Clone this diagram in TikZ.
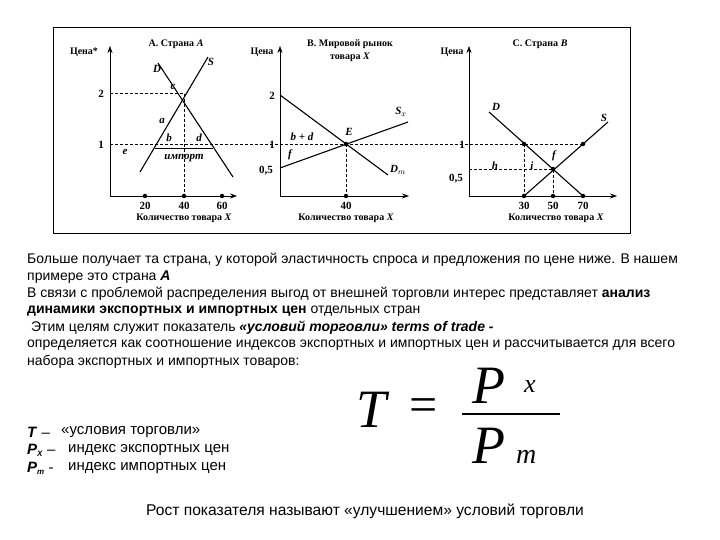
\documentclass[tikz,border=0pt]{standalone}
\usepackage{fontspec}
\setmainfont{Liberation Sans}
\newfontfamily\tms{Liberation Serif}
\usetikzlibrary{arrows.meta}
\begin{document}
\begin{tikzpicture}[x=1pt,y=-1pt,
  ax/.style={line width=0.6pt,-{Stealth[length=7pt,width=5pt]}},
  crv/.style={line width=1.1pt},
  dsh/.style={dashed,line width=0.6pt,dash pattern=on 3pt off 2pt},
  lb/.style={font=\tms\bfseries\fontsize{10}{11}\selectfont,inner sep=1pt},
  nm/.style={font=\tms\bfseries\fontsize{11}{12}\selectfont,inner sep=1pt},
  il/.style={font=\tms\bfseries\itshape\fontsize{11}{12}\selectfont,inner sep=1pt},
  dotc/.style={circle,fill,inner sep=0pt,minimum size=4.5pt},
  txt/.style={font=\fontsize{14}{17}\selectfont,anchor=west,inner sep=0pt},
  lg/.style={font=\fontsize{15}{17}\selectfont,anchor=west,inner sep=0pt}]
\useasboundingbox (0,0) rectangle (720,540);
\fill[white] (0,0) rectangle (720,540);
\draw[line width=0.8pt] (53,27) rectangle (630,233);
% Panel A
\coordinate (Ao) at (110,196);
\draw[ax] (Ao) -- (110,46) coordinate (Ay);
\draw[ax] (Ao) -- (237,196) coordinate (Ax);
\node[lb] at (84,52) {Цена*};
\node[lb] at (176,44) {А. Страна \textit{A}};
\draw[crv] (140,172) coordinate (S1) -- (208,57) coordinate (S2);
\draw[crv] (158,63) coordinate (D1) -- (233,177) coordinate (D2);
\draw[dsh] (110,93) -- (184,93) -- (184,196);
\draw[dsh] (110,144) -- (460,144);
\draw[line width=0.8pt] (155,148) -- (213,148);
\node[il] at (157,69) {D};
\node[il] at (211,62) {S};
\node[il] at (173,87) {c};
\node[il] at (162,121) {a};
\node[il] at (169,138) {b};
\node[il] at (199,138) {d};
\node[il] at (125,152) {e};
\node[il] at (184,158) {импорт};
\node[nm] at (101,94) {2};
\node[nm] at (101,145) {1};
\foreach \x/\t in {145/20,184/40,222/60}{\node[dotc] at (\x,196) {};\node[nm] at (\x,206) {\t};}
\node[lb] at (184,218) {Количество товара \textit{X}};
% Panel B
\coordinate (Bo) at (280,196);
\draw[ax] (Bo) -- (280,46) coordinate (By);
\draw[ax] (Bo) -- (409,196) coordinate (Bx);
\node[lb] at (262,52) {Цена};
\node[lb] at (350,44) {В. Мировой рынок};
\node[lb] at (350,57) {товара \textit{X}};
\draw[crv] (280,95) -- (388,175);
\draw[crv] (280,168) -- (408,122);
\draw[dsh] (346,144) -- (346,196);
\node[dotc] (E) at (346,144) {};
\node[dotc] at (346,196) {};
\node[il] at (349,132) {E};
\node[il] at (401,112) {S$_x$};
\node[il] at (398,170) {D$_m$};
\node[il] at (302,137) {b + d};
\node[il] at (290,155) {f};
\node[nm] at (272,96) {2};
\node[nm] at (272,145) {1};
\node[nm] at (266,171) {0,5};
\node[nm] at (346,206) {40};
\node[lb] at (346,218) {Количество товара \textit{X}};
% Panel C
\coordinate (Co) at (469,196);
\draw[ax] (Co) -- (469,46) coordinate (Cy);
\draw[ax] (Co) -- (617,196) coordinate (Cx);
\node[lb] at (452,52) {Цена};
\node[lb] at (540,44) {С. Страна \textit{B}};
\draw[crv] (489,112) -- (583,196);
\draw[crv] (524,196) -- (608,122);
\draw[dsh] (460,144) -- (583,144);
\draw[dsh] (469,169) -- (553,169) -- (553,196);
\draw[dsh] (524,144) -- (524,196);
\foreach \p in {(524,144),(583,144),(553,169),(524,196),(553,196),(583,196)} \node[dotc] at \p {};
\node[il] at (496,107) {D};
\node[il] at (604,118) {S};
\node[il] at (495,166) {h};
\node[il] at (532,166) {i};
\node[il] at (554,156) {f};
\node[nm] at (462,145) {1};
\node[nm] at (456,179) {0,5};
\foreach \x/\t in {524/30,553/50,583/70}\node[nm] at (\x,206) {\t};
\node[lb] at (556,218) {Количество товара \textit{X}};
% text
\node[txt] at (27,260) {Больше получает та страна, у которой эластичность спроса и предложения по цене ниже. В нашем};
\node[txt] at (27,277) {примере это страна \textbf{\textit{A}}};
\node[txt] at (27,294) {В связи с проблемой распределения выгод от внешней торговли интерес представляет \textbf{анализ}};
\node[txt] at (27,311) {\textbf{динамики экспортных и импортных цен} отдельных стран};
\node[txt] at (27,328) {\ Этим целям служит показатель \textbf{\textit{«условий торговли» terms of trade -}}};
\node[txt] at (27,345) {определяется как соотношение индексов экспортных и импортных цен и рассчитывается для всего};
\node[txt] at (27,362) {набора экспортных и импортных товаров:};
\node[lg] at (27,432) {\textbf{\textit{T}} –};
\node[lg] at (61,432) {«условия торговли»};
\node[lg] at (27,450) {\textbf{\textit{P}}\raisebox{-2pt}{\footnotesize\textbf{\textit{X}}} –};
\node[lg] at (68,450) {индекс экспортных цен};
\node[lg] at (27,468) {\textbf{\textit{P}}\raisebox{-2pt}{\footnotesize\textbf{\textit{m}}} -};
\node[lg] at (68,468) {индекс импортных цен};
\node[font=\fontsize{15.6}{17}\selectfont,anchor=west,inner sep=0pt] at (146,511) {Рост показателя называют «улучшением» условий торговли};
% formula
\node[font=\tms\itshape\fontsize{54}{54}\selectfont,inner sep=0pt] (T) at (372,410) {T};
\node[font=\tms\fontsize{50}{50}\selectfont,inner sep=0pt] (eq) at (424,410) {=};
\draw[line width=1.3pt] (462,414) -- (560,414);
\node[font=\tms\itshape\fontsize{54}{54}\selectfont,inner sep=0pt,anchor=base west] at (472,403) {P};
\node[font=\tms\itshape\fontsize{26}{26}\selectfont,inner sep=0pt,anchor=base west] at (524,392) {x};
\node[font=\tms\itshape\fontsize{54}{54}\selectfont,inner sep=0pt,anchor=base west] at (472,463) {P};
\node[font=\tms\itshape\fontsize{28}{28}\selectfont,inner sep=0pt,anchor=base west] at (516,463) {m};
\end{tikzpicture}
\end{document}
